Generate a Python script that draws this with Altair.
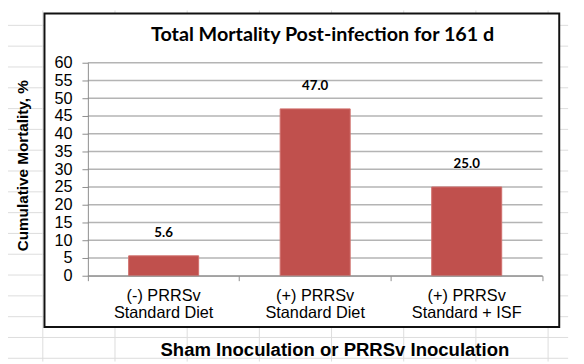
import altair as alt
import pandas as pd

# ---- data ----
categories = ["(-) PRRSv\nStandard Diet", "(+) PRRSv\nStandard Diet", "(+) PRRSv\nStandard + ISF"]
mortality = [5.6, 47.0, 25.0]
y_ticks = [0, 5, 10, 15, 20, 25, 30, 35, 40, 45, 50, 55, 60]

title_text = "Total Mortality Post-infection for 161 d"
y_title = "Cumulative Mortality, %"
x_title = "Sham Inoculation or PRRSv Inoculation"

df = pd.DataFrame({"group": categories, "mortality": mortality})
grid_df = pd.DataFrame({"v": y_ticks})

W, H = 461, 216
BAR = "#C0504D"
AXIS_GREY = "#8C8C8C"
SHEET = "#DCDCDC"

x_scale = alt.Scale(paddingInner=0, paddingOuter=0)
x_axis = alt.Axis(
    title=x_title,
    labelExpr="split(datum.label, '\\n')",
    labelAngle=0,
    labelFont="Liberation Sans",
    labelFontSize=16.5,
    labelColor="#000000",
    labelLineHeight=17,
    labelPadding=7,
    labelBaseline="top",
    tickSize=5,
    tickColor=AXIS_GREY,
    tickWidth=1,
    bandPosition=1,
    tickExtra=True,
    domainColor=AXIS_GREY,
    domainWidth=1,
    grid=False,
    titleFont="Liberation Sans",
    titleFontSize=18.8,
    titleFontWeight="bold",
    titleColor="#000000",
    titleX=250,
    titleY=75,
    titleAlign="center",
    titleBaseline="middle",
    zindex=1,
)

y_scale = alt.Scale(domain=[0, 60], nice=False, zero=True)
y_axis = alt.Axis(
    title=y_title,
    values=y_ticks,
    labelOverlap=False,
    labelFont="Liberation Sans",
    labelFontSize=16.5,
    labelColor="#000000",
    labelPadding=10,
    tickSize=6,
    tickColor=AXIS_GREY,
    domainColor=AXIS_GREY,
    grid=False,
    titleFont="Liberation Sans",
    titleFontSize=15.5,
    titleFontWeight="bold",
    titleColor="#000000",
    titleX=-66,
    titleY=104,
    titleAngle=-90,
    titleAlign="center",
    titleBaseline="middle",
    zindex=1,
)

# ---- decorative spreadsheet cell grid behind the chart ----
deco = []
for k in range(8):
    xv = -45.7 + 73.2 * k
    deco.append(
        alt.Chart(alt.Data(values=[{}])).mark_rule(color=SHEET, strokeWidth=1).encode(
            x=alt.value(xv), y=alt.value(-53), y2=alt.value(303)
        )
    )
for k in range(1, 18):
    yv = -59 + 21.1 * k
    deco.append(
        alt.Chart(alt.Data(values=[{}])).mark_rule(color=SHEET, strokeWidth=1).encode(
            x=alt.value(-81), x2=alt.value(487), y=alt.value(yv)
        )
    )

box = alt.Chart(alt.Data(values=[{}])).mark_rect(
    fill="white", stroke="#111111", strokeWidth=2
).encode(x=alt.value(-44), x2=alt.value(478), y=alt.value(-50), y2=alt.value(268))

title = alt.Chart(alt.Data(values=[{"t": title_text}])).mark_text(
    font="Lato", fontSize=20, fontWeight="bold", color="#000000",
    align="center", baseline="alphabetic"
).encode(text="t:N", x=alt.value(238), y=alt.value(-22))

gridlines = alt.Chart(grid_df).mark_rule(color="#B4B4B4", strokeWidth=1.3).encode(
    y=alt.Y("v:Q", scale=y_scale, axis=y_axis, title=y_title)
)

bars = alt.Chart(df).mark_bar(
    color=BAR, stroke="#D0706D", strokeWidth=1, width=alt.RelativeBandSize(0.462)
).encode(
    x=alt.X("group:N", sort=categories, scale=x_scale, axis=x_axis, title=x_title),
    y=alt.Y("mortality:Q", scale=y_scale, axis=y_axis, title=y_title),
)

labels = alt.Chart(df).mark_text(
    font="Lato", fontSize=13.5, fontWeight="bold", color="#000000", dy=-23, baseline="middle"
).encode(
    x=alt.X("group:N", sort=categories, scale=x_scale, axis=x_axis, title=x_title),
    y=alt.Y("mortality:Q", scale=y_scale, axis=y_axis, title=y_title),
    text=alt.Text("mortality:Q", format=".1f"),
)

chart = alt.layer(*deco, box, title, gridlines, bars, labels).properties(
    width=W,
    height=H,
    padding={"left": 81, "top": 53, "right": 34, "bottom": 87},
    autosize=alt.AutoSizeParams(type="none"),
).configure_view(stroke=None)

chart.save("out.html", embed_options={"renderer": "svg", "actions": False})
